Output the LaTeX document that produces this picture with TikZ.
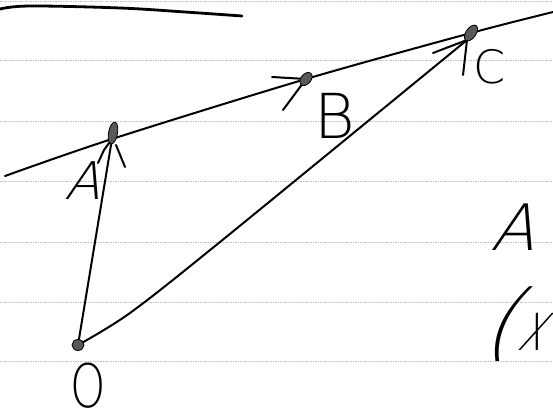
\documentclass[tikz,border=0pt]{standalone}
\usepackage{fontspec}
\usepackage{graphicx}
\usetikzlibrary{calc}
\IfFontExistsTF{DejaVu Sans ExtraLight}{\newfontfamily\hand{DejaVu Sans ExtraLight}}{\newfontfamily\hand{DejaVu Sans}}
\begin{document}
\begin{tikzpicture}[x=1pt,y=-1pt,
  ink/.style={line width=2pt, line cap=round, line join=round},
  rule/.style={gray!50, line width=0.6pt, dash pattern=on 1.5pt off 1pt},
  blob/.style={fill=black!65, draw=black, line width=0.8pt},
  lab/.style={inner sep=0pt, outer sep=0pt}]
\useasboundingbox (0,0) rectangle (553,415);
% ruled paper
\foreach \yy in {1,60,121,181,242,302,361} \draw[rule] (0,\yy) -- (553,\yy);
% top stroke
\draw[line width=2.8pt, line cap=round] plot[smooth, tension=0.6] coordinates {(0,9) (30,6) (120,8) (185,12) (242,16)};
% points
\coordinate (O) at (78,345);
\coordinate (A) at (112,139);
\coordinate (Atop) at (113,133);
\coordinate (B) at (306,79);
\coordinate (C) at (471,33);
\coordinate (Ctip) at (467,40);
\coordinate (L0) at (5,176);
\coordinate (L1) at (553,12);
\coordinate (m1) at (130,313);
\coordinate (m2) at (220,242);
% main line through A, B, C
\draw[ink] plot[smooth, tension=0.5] coordinates {(L0) (A) (B) (C) (L1)};
% O -> A
\draw[ink] (O) -- (A);
% O -> C
\draw[ink] plot[smooth, tension=0.5] coordinates {(O) (m1) (m2) (Ctip)};
% arrow barbs
\draw[ink] (98,163) -- (104,150) -- (A);
\draw[ink] ($(A)+(4,6)$) -- (125,167);
\draw[ink] (272,77) -- (B) -- (283,110);
\draw[ink] (433,53) -- (Ctip) -- (463,75);
% blobs
\fill[blob, rotate around={-10:(Atop)}] (Atop) ellipse (4.5 and 11);
\fill[blob, rotate around={-40:(B)}] (B) ellipse (5 and 7.5);
\fill[blob, rotate around={-35:(C)}] (C) ellipse (5 and 9);
\fill[blob] (O) ellipse (6 and 5.5);
% labels
\node[lab, xslant=0.3, font={\hand\fontsize{52}{52}\selectfont}] (tA) at (88,181) {A};
\node[lab, font={\hand\fontsize{62}{62}\selectfont}] (tB) at (335,116) {B};
\node[lab, font={\hand\fontsize{46}{46}\selectfont}] (tC) at (490,67) {C};
\node[lab, xscale=0.75, font={\hand\fontsize{60}{60}\selectfont}] (tO) at (88,386) {O};
\node[lab, xslant=0.3, font={\hand\fontsize{64}{64}\selectfont}] (tA2) at (519,227) {A};
\node[lab, anchor=base west, xslant=0.45, font={\hand\fontsize{84}{84}\selectfont}] (tX) at (480,350)
  {(\hspace{4pt}\scalebox{0.6}[1]{\fontsize{68}{68}\selectfont x}};
\end{tikzpicture}
\end{document}
